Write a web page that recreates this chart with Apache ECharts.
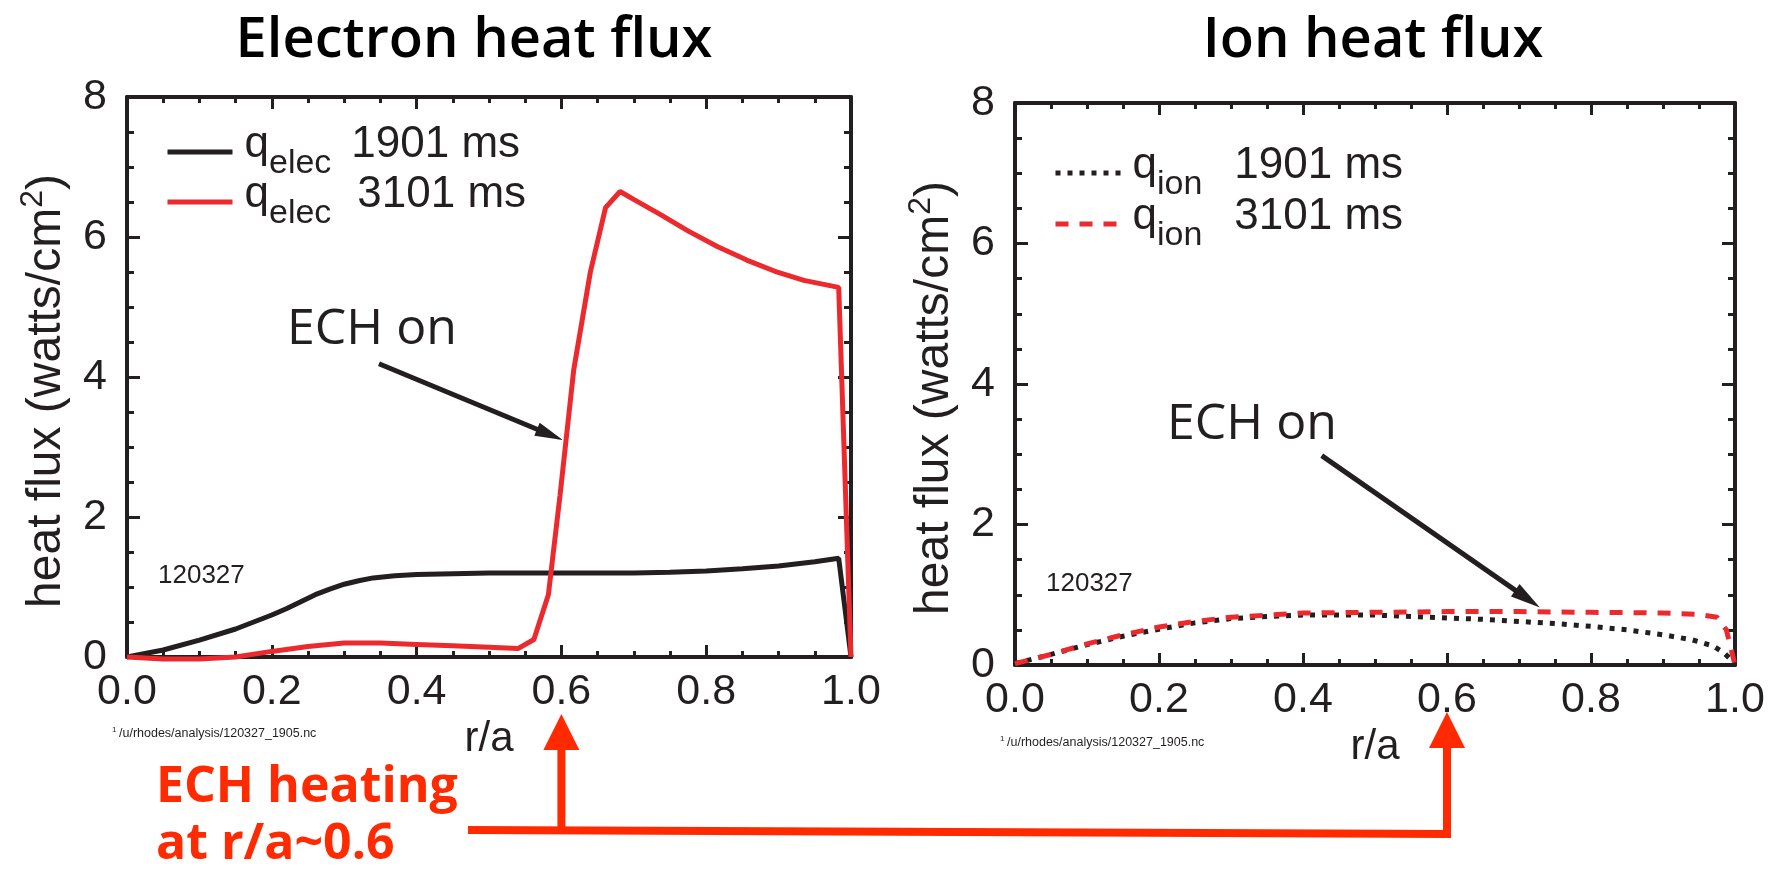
<!DOCTYPE html>
<html>
<head>
<meta charset="utf-8">
<title>Electron and ion heat flux</title>
<script src="https://cdn.jsdelivr.net/npm/echarts@6/dist/echarts.min.js"></script>
<style>
  html, body { margin: 0; padding: 0; background: #fff; }
  #main { width: 1783px; height: 869px; }
</style>
</head>
<body>
<div id="main"></div>
<script>
// Values: r/a against heat flux (watts/cm^2), shot 120327
const rElec1901 = [0, 0.05, 0.1, 0.15, 0.2, 0.22, 0.24, 0.26, 0.28, 0.3, 0.32, 0.34, 0.37, 0.4, 0.5, 0.6, 0.7, 0.75, 0.8, 0.85, 0.9, 0.95, 0.983, 1.0];
const qElec1901 = [0, 0.1, 0.24, 0.4, 0.6, 0.69, 0.79, 0.89, 0.97, 1.04, 1.09, 1.13, 1.16, 1.18, 1.2, 1.2, 1.2, 1.21, 1.23, 1.26, 1.3, 1.36, 1.41, 0];

const rElec3101 = [0, 0.05, 0.1, 0.15, 0.2, 0.25, 0.3, 0.35, 0.4, 0.45, 0.5, 0.54, 0.562, 0.582, 0.598, 0.617, 0.64, 0.661, 0.681, 0.701, 0.737, 0.776, 0.816, 0.856, 0.895, 0.935, 0.983, 1.0];
const qElec3101 = [0, -0.03, -0.03, 0.0, 0.08, 0.15, 0.2, 0.2, 0.18, 0.16, 0.14, 0.12, 0.25, 0.89, 2.3, 4.1, 5.5, 6.42, 6.65, 6.53, 6.32, 6.08, 5.86, 5.67, 5.51, 5.38, 5.28, 0];

const rIon1901 = [0, 0.05, 0.1, 0.15, 0.2, 0.25, 0.3, 0.35, 0.4, 0.45, 0.5, 0.55, 0.6, 0.65, 0.7, 0.75, 0.8, 0.85, 0.9, 0.94, 0.97, 0.985, 1.0];
const qIon1901 = [0.02, 0.15, 0.29, 0.41, 0.51, 0.6, 0.66, 0.69, 0.71, 0.71, 0.71, 0.69, 0.67, 0.65, 0.62, 0.59, 0.55, 0.5, 0.43, 0.36, 0.27, 0.17, 0.02];

const rIon3101 = [0, 0.05, 0.1, 0.15, 0.2, 0.25, 0.3, 0.35, 0.4, 0.5, 0.6, 0.7, 0.8, 0.9, 0.95, 0.975, 0.988, 1.0];
const qIon3101 = [0.02, 0.15, 0.3, 0.43, 0.54, 0.62, 0.68, 0.71, 0.74, 0.75, 0.76, 0.76, 0.75, 0.74, 0.72, 0.68, 0.5, 0.0];

const xTicks = [0, 0.2, 0.4, 0.6, 0.8, 1.0];
const yTicks = [0, 2, 4, 6, 8];
const titles = ['Electron heat flux', 'Ion heat flux'];
const shotLabel = '120327';
const fileLabel = '/u/rhodes/analysis/120327_1905.nc';

const INK = '#231f20';
const RED = '#ec2a2e';
const ORANGE = '#ff2a00';
const HELV = '"Liberation Sans", Arial, sans-serif';
const MYRIAD = '"Open Sans", "Noto Sans", sans-serif';

function pairs(xs, ys) {
    return xs.map((x, i) => [x, ys[i]]);
}

// bottom/left axes carry labels, top/right only mirror the ticks
function xAxisFor(gridIndex, position) {
    const main = position === 'bottom';
    return {
        type: 'value', gridIndex: gridIndex, position: position,
        min: xTicks[0], max: xTicks[xTicks.length - 1], interval: 0.2,
        name: main ? 'r/a' : '', nameLocation: 'middle', nameGap: 58,
        nameTextStyle: { fontFamily: HELV, fontSize: 42, color: INK },
        axisLine: { show: true, onZero: false, lineStyle: { color: INK, width: 4 } },
        axisTick: { show: true, inside: true, length: 12, lineStyle: { color: INK, width: 3 } },
        minorTick: { show: true, splitNumber: 4, length: 6, lineStyle: { color: INK, width: 3 } },
        axisLabel: {
            show: main, margin: 14, fontFamily: HELV, fontSize: 43, color: INK,
            formatter: v => v.toFixed(1)
        },
        splitLine: { show: false }
    };
}

function yAxisFor(gridIndex, position) {
    const main = position === 'left';
    return {
        type: 'value', gridIndex: gridIndex, position: position,
        min: yTicks[0], max: yTicks[yTicks.length - 1], interval: 2,
        name: main ? '{a|heat flux (watts/cm}{s|2}{a|)}' : '',
        nameLocation: 'middle', nameGap: 50,
        nameTextStyle: {
            padding: [0, 28, 0, 0],
            rich: {
                a: { fontFamily: HELV, fontSize: 48, color: INK },
                s: { fontFamily: HELV, fontSize: 32, color: INK, padding: [0, 0, 28, 0] }
            }
        },
        axisLine: { show: true, onZero: false, lineStyle: { color: INK, width: 4 } },
        axisTick: { show: true, inside: true, length: 13, lineStyle: { color: INK, width: 3 } },
        minorTick: { show: true, splitNumber: 4, length: 7, lineStyle: { color: INK, width: 3 } },
        axisLabel: { show: main, margin: 20, fontFamily: HELV, fontSize: 43, color: INK },
        splitLine: { show: false }
    };
}

function legendFor(name, left, centerY, gap) {
    return {
        data: [name], left: left, top: centerY - 29,
        itemWidth: 65, itemHeight: 14, selectedMode: false,
        itemStyle: { opacity: 0 },
        lineStyle: { width: 5 },
        formatter: n => {
            const parts = n.split(' ');
            return '{q|q}{sub|' + parts[0] + '}{t|' + parts[1] + ' ms}';
        },
        textStyle: {
            rich: {
                q: { fontFamily: HELV, fontSize: 44, lineHeight: 44, color: INK, padding: [0, 0, 14, 7] },
                sub: { fontFamily: HELV, fontSize: 34, lineHeight: 34, color: INK, padding: [24, 0, 0, 0] },
                t: { fontFamily: HELV, fontSize: 44, lineHeight: 44, color: INK, padding: [0, 0, 14, gap] }
            }
        }
    };
}

const chart = echarts.init(document.getElementById('main'));

chart.setOption({
    animation: false,
    backgroundColor: '#fff',
    title: [
        { text: titles[0], left: 469, top: 8, textAlign: 'center',
          textStyle: { fontFamily: MYRIAD, fontWeight: 600, fontSize: 56, color: '#000' } },
        { text: titles[1], left: 1368, top: 8, textAlign: 'center',
          textStyle: { fontFamily: MYRIAD, fontWeight: 600, fontSize: 56, color: '#000' } }
    ],
    grid: [
        { left: 127, top: 97, width: 724, height: 560 },
        { left: 1015, top: 103, width: 720, height: 562 }
    ],
    xAxis: [xAxisFor(0, 'bottom'), xAxisFor(0, 'top'), xAxisFor(1, 'bottom'), xAxisFor(1, 'top')],
    yAxis: [yAxisFor(0, 'left'), yAxisFor(0, 'right'), yAxisFor(1, 'left'), yAxisFor(1, 'right')],
    legend: [
        legendFor('elec 1901', 160, 147, 20),
        legendFor('elec 3101', 160, 197, 26),
        legendFor('ion 1901', 1048, 168, 32),
        legendFor('ion 3101', 1048, 219, 32)
    ],
    series: [
        { name: 'elec 1901', type: 'line', xAxisIndex: 0, yAxisIndex: 0, data: pairs(rElec1901, qElec1901),
          symbol: 'none', clip: false, color: INK, lineStyle: { color: INK, width: 5 } },
        { name: 'elec 3101', type: 'line', xAxisIndex: 0, yAxisIndex: 0, data: pairs(rElec3101, qElec3101),
          symbol: 'none', clip: false, color: RED, lineStyle: { color: RED, width: 5 } },
        { name: 'ion 1901', type: 'line', xAxisIndex: 2, yAxisIndex: 2, data: pairs(rIon1901, qIon1901),
          symbol: 'none', clip: false, color: INK, lineStyle: { color: INK, width: 5, type: [5, 7] } },
        { name: 'ion 3101', type: 'line', xAxisIndex: 2, yAxisIndex: 2, data: pairs(rIon3101, qIon3101),
          symbol: 'none', clip: false, color: RED, lineStyle: { color: RED, width: 5, type: [13, 11] } }
    ]
});

// Annotations: arrows hang on data coordinates, labels sit at page positions
function arrow(from, to, headLen, headW, color, lw) {
    const dx = to[0] - from[0], dy = to[1] - from[1];
    const len = Math.hypot(dx, dy);
    const ux = dx / len, uy = dy / len;
    const bx = to[0] - ux * headLen, by = to[1] - uy * headLen;
    const px = -uy * headW / 2, py = ux * headW / 2;
    return [
        { type: 'line', shape: { x1: from[0], y1: from[1], x2: bx + ux * 2, y2: by + uy * 2 },
          style: { stroke: color, lineWidth: lw }, z: 10 },
        { type: 'polygon', shape: { points: [[to[0], to[1]], [bx + px, by + py], [bx - px, by - py]] },
          style: { fill: color }, z: 10 }
    ];
}

function label(text, x, y, size, family, weight, fill) {
    return {
        type: 'text', x: x, y: y, z: 10,
        style: {
            text: text, fontFamily: family || HELV, fontWeight: weight || 400,
            fontSize: size, fill: fill || INK, verticalAlign: 'middle'
        }
    };
}

const px0 = (p) => chart.convertToPixel({ gridIndex: 0 }, p);
const px1 = (p) => chart.convertToPixel({ gridIndex: 1 }, p);

const leftX = px0([0.6, 0])[0];
const rightX = px1([0.6, 0])[0];

const graphics = [].concat(
    arrow(px0([0.348, 4.19]), px0([0.602, 3.1]), 28, 14, INK, 5),
    arrow(px1([0.426, 2.98]), px1([0.729, 0.82]), 30, 15, INK, 5),
    arrow([leftX, 830], [leftX, 714], 36, 36, ORANGE, 8),
    arrow([rightX, 834], [rightX, 712], 36, 36, ORANGE, 8),
    [
        { type: 'polyline', z: 10, shape: { points: [[468, 830], [rightX + 4, 834]] },
          style: { stroke: ORANGE, lineWidth: 8 } },
        label('ECH on', 287, 330, 50, MYRIAD),
        label('ECH on', 1167, 425, 50, MYRIAD),
        label(shotLabel, 158, 576, 26),
        label(shotLabel, 1046, 584, 26),
        label('1', 112, 730, 8),
        label(fileLabel, 119, 734, 12.5),
        label('1', 1000, 739, 8),
        label(fileLabel, 1007, 743, 12.5),
        label('ECH heating', 156, 788, 50, MYRIAD, 700, ORANGE),
        label('at r/a~0.6', 156, 845, 50, MYRIAD, 700, ORANGE)
    ]
);

chart.setOption({ graphic: graphics });
</script>
</body>
</html>
